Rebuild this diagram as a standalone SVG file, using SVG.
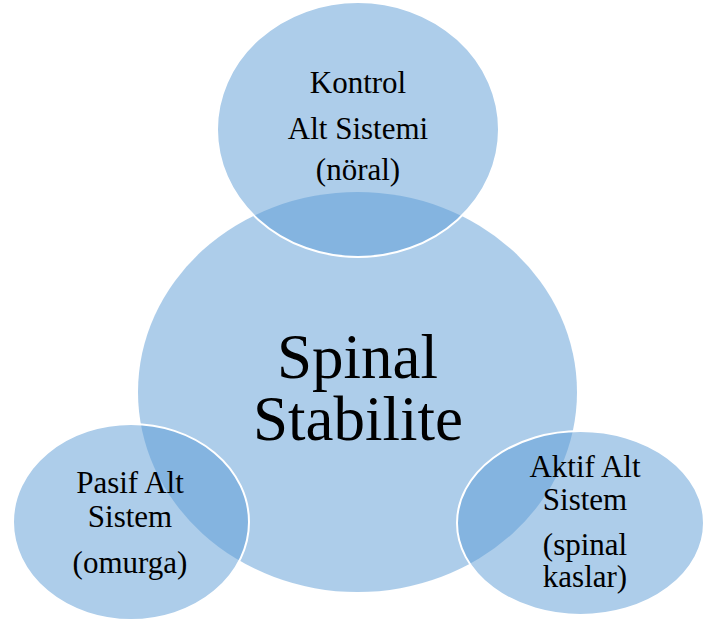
<svg xmlns="http://www.w3.org/2000/svg" width="704" height="621" viewBox="0 0 704 621">
<style>
.big{fill:#5B9BD5;fill-opacity:0.5;stroke:none}
.sub{fill:#5B9BD5;fill-opacity:0.5;stroke:#FFFFFF;stroke-width:2}
text{font-family:"Liberation Serif","Times New Roman",serif;fill:#000000;text-anchor:middle}
.s{font-size:31px}
.l{font-size:63px}
</style>
<rect width="704" height="621" fill="#FFFFFF"/>
<g id="connectors"></g>
<g id="spinal-stabilite">
<ellipse class="big" cx="357.5" cy="392" rx="219.5" ry="200"/>
<text class="l" x="357.5" y="378">Spinal</text>
<text class="l" x="358" y="440">Stabilite</text>
</g>
<g id="kontrol">
<ellipse class="sub" cx="358" cy="129.5" rx="141" ry="127.5"/>
<text class="s" x="358" y="93">Kontrol</text>
<text class="s" x="358" y="139">Alt Sistemi</text>
<text class="s" x="358" y="180">(nöral)</text>
</g>
<g id="pasif">
<ellipse class="sub" cx="131" cy="522" rx="118" ry="98"/>
<text class="s" x="130" y="493">Pasif Alt</text>
<text class="s" x="130" y="527">Sistem</text>
<text class="s" x="130" y="573">(omurga)</text>
</g>
<g id="aktif">
<ellipse class="sub" cx="580.5" cy="523" rx="123.5" ry="92"/>
<text class="s" x="585" y="477">Aktif Alt</text>
<text class="s" x="585" y="510">Sistem</text>
<text class="s" x="585" y="555">(spinal</text>
<text class="s" x="585" y="587">kaslar)</text>
</g>
</svg>
